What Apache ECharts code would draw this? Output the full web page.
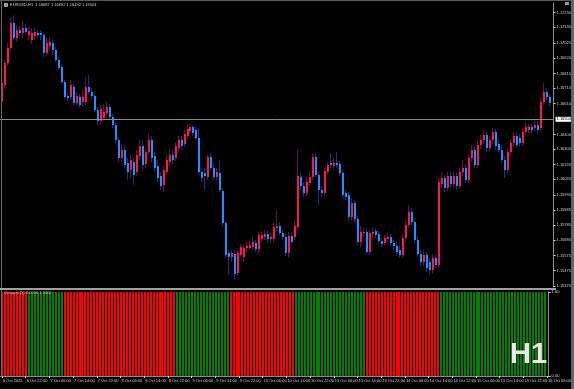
<!DOCTYPE html>
<html><head><meta charset="utf-8">
<script src="https://cdn.jsdelivr.net/npm/echarts@6/dist/echarts.min.js"></script>
<style>html,body{margin:0;padding:0;background:#000;}#c{width:574px;height:389px;}</style>
</head><body><div id="c"></div>
<script>
const symbolTitle = 'EURUSD,H1  1.16687 1.16692 1.16492 1.16504';
const indicatorTitle = 'Octopus 2() 0.0000 1.0000';
const timeframeText = 'H1';
const lastPrice = 1.16504;
const priceTicks = [1.17230,1.17130,1.17025,1.16920,1.16815,1.16715,1.16610,1.16400,1.16300,1.16195,1.16095,1.15990,1.15885,1.15785,1.15680,1.15575,1.15475,1.15370];
const priceMin = 1.15362, priceMax = 1.17296;

const openP = [
1.16621,1.16737,1.16887,1.16989,1.17159,1.17057,1.17112,1.17091,1.17125,1.17078,
1.17044,1.17071,1.17091,1.17091,1.17078,1.16955,1.17003,1.17023,1.16976,1.16907,
1.16860,1.16758,1.16662,1.16655,1.16724,1.16615,1.16655,1.16621,1.16621,1.16724,
1.16690,1.16662,1.16567,1.16492,1.16512,1.16546,1.16587,1.16519,1.16465,1.16363,
1.16240,1.16295,1.16206,1.16158,1.16213,1.16145,1.16254,1.16322,1.16199,1.16281,
1.16363,1.16254,1.16186,1.16117,1.16056,1.16145,1.16213,1.16260,1.16240,1.16308,
1.16363,1.16335,1.16390,1.16424,1.16451,1.16431,1.16376,1.16145,1.16138,1.16111,
1.16247,1.16172,1.16111,1.16138,1.16015,1.15797,1.15593,1.15566,1.15586,1.15457,
1.15579,1.15566,1.15627,1.15627,1.15634,1.15661,1.15620,1.15688,1.15702,1.15722,
1.15688,1.15688,1.15763,1.15777,1.15729,1.15702,1.15593,1.15709,1.15702,1.15770,
1.16111,1.16049,1.16002,1.16070,1.16111,1.16247,1.16124,1.16022,1.16002,1.16145,
1.16206,1.16186,1.16206,1.16199,1.16138,1.16002,1.15988,1.15838,1.15934,1.15825,
1.15668,1.15729,1.15736,1.15600,1.15722,1.15743,1.15722,1.15675,1.15661,1.15688,
1.15702,1.15661,1.15641,1.15614,1.15579,1.15695,1.15784,1.15872,1.15804,1.15682,
1.15586,1.15532,1.15579,1.15532,1.15477,1.15559,1.15511,1.16063,1.16104,1.16036,
1.16117,1.16063,1.16117,1.16049,1.16145,1.16172,1.16090,1.16240,1.16295,1.16192,
1.16329,1.16363,1.16397,1.16308,1.16363,1.16417,1.16335,1.16295,1.16226,1.16158,
1.16281,1.16342,1.16390,1.16376,1.16342,1.16417,1.16431,1.16451,1.16444,1.16465,
1.16444,1.16621,1.16690,1.16655];
const highP = [
1.16785,1.16907,1.17023,1.17200,1.17214,1.17146,1.17139,1.17180,1.17153,1.17132,
1.17125,1.17125,1.17112,1.17112,1.17091,1.17057,1.17057,1.17044,1.16996,1.16928,
1.16873,1.16771,1.16683,1.16771,1.16744,1.16690,1.16676,1.16703,1.16792,1.16805,
1.16717,1.16683,1.16587,1.16601,1.16608,1.16621,1.16608,1.16540,1.16485,1.16383,
1.16329,1.16322,1.16240,1.16260,1.16240,1.16295,1.16363,1.16363,1.16308,1.16410,
1.16390,1.16281,1.16226,1.16145,1.16186,1.16260,1.16295,1.16295,1.16349,1.16390,
1.16390,1.16431,1.16465,1.16472,1.16465,1.16451,1.16444,1.16172,1.16172,1.16260,
1.16274,1.16199,1.16172,1.16226,1.16036,1.15811,1.15614,1.15614,1.15614,1.15614,
1.15654,1.15648,1.15668,1.15682,1.15709,1.15682,1.15736,1.15743,1.15750,1.15750,
1.15729,1.15804,1.15886,1.15804,1.15750,1.15722,1.15736,1.15736,1.15818,1.16295,
1.16145,1.16077,1.16111,1.16145,1.16274,1.16267,1.16145,1.16049,1.16172,1.16213,
1.16274,1.16240,1.16281,1.16220,1.16158,1.16022,1.16009,1.15968,1.15954,1.15845,
1.15777,1.15763,1.15763,1.15750,1.15763,1.15763,1.15743,1.15695,1.15716,1.15729,
1.15722,1.15682,1.15668,1.15641,1.15722,1.15818,1.15920,1.15900,1.15831,1.15709,
1.15614,1.15614,1.15600,1.15559,1.15586,1.15586,1.16104,1.16145,1.16124,1.16145,
1.16145,1.16145,1.16138,1.16172,1.16226,1.16199,1.16260,1.16329,1.16322,1.16363,
1.16397,1.16431,1.16424,1.16390,1.16444,1.16438,1.16363,1.16322,1.16254,1.16308,
1.16369,1.16417,1.16417,1.16404,1.16444,1.16478,1.16472,1.16472,1.16492,1.16492,
1.16649,1.16751,1.16717,1.16676];
const lowP = [
1.16567,1.16717,1.16866,1.16962,1.17044,1.17030,1.17071,1.17057,1.17078,1.17044,
1.17016,1.17044,1.17057,1.17044,1.16928,1.16935,1.16976,1.16941,1.16894,1.16839,
1.16744,1.16642,1.16628,1.16635,1.16594,1.16594,1.16580,1.16594,1.16601,1.16676,
1.16642,1.16553,1.16465,1.16472,1.16492,1.16526,1.16499,1.16444,1.16342,1.16213,
1.16213,1.16172,1.16090,1.16104,1.16056,1.16117,1.16226,1.16158,1.16172,1.16260,
1.16213,1.16145,1.16077,1.16022,1.16009,1.16124,1.16186,1.16199,1.16220,1.16281,
1.16295,1.16315,1.16369,1.16404,1.16390,1.16363,1.16124,1.16077,1.16022,1.16090,
1.16151,1.16090,1.16090,1.16009,1.15777,1.15559,1.15443,1.15532,1.15416,1.15436,
1.15566,1.15532,1.15600,1.15614,1.15614,1.15600,1.15593,1.15668,1.15682,1.15661,
1.15668,1.15668,1.15743,1.15709,1.15682,1.15573,1.15559,1.15648,1.15682,1.15750,
1.16022,1.15974,1.15981,1.16049,1.16090,1.16111,1.15920,1.15974,1.15981,1.16124,
1.16172,1.16165,1.16172,1.16117,1.15968,1.15954,1.15818,1.15818,1.15804,1.15648,
1.15634,1.15702,1.15579,1.15579,1.15695,1.15695,1.15654,1.15634,1.15641,1.15668,
1.15641,1.15614,1.15573,1.15559,1.15559,1.15668,1.15763,1.15777,1.15661,1.15566,
1.15505,1.15505,1.15464,1.15443,1.15450,1.15491,1.15491,1.16036,1.16009,1.16015,
1.16036,1.16043,1.16022,1.16029,1.16117,1.16070,1.16070,1.16213,1.16172,1.16172,
1.16301,1.16335,1.16281,1.16288,1.16335,1.16295,1.16274,1.16206,1.16104,1.16138,
1.16260,1.16315,1.16308,1.16322,1.16322,1.16397,1.16410,1.16410,1.16424,1.16410,
1.16424,1.16601,1.16635,1.16594];
const closeP = [
1.16751,1.16887,1.16989,1.17159,1.17057,1.17112,1.17091,1.17125,1.17098,1.17105,
1.17091,1.17098,1.17078,1.17078,1.16955,1.17023,1.17030,1.16976,1.16907,1.16853,
1.16758,1.16655,1.16649,1.16737,1.16615,1.16662,1.16601,1.16655,1.16724,1.16690,
1.16662,1.16567,1.16492,1.16574,1.16553,1.16587,1.16519,1.16465,1.16363,1.16240,
1.16295,1.16192,1.16145,1.16226,1.16124,1.16260,1.16322,1.16192,1.16281,1.16363,
1.16240,1.16172,1.16104,1.16049,1.16158,1.16226,1.16260,1.16226,1.16322,1.16363,
1.16322,1.16404,1.16438,1.16451,1.16410,1.16376,1.16145,1.16104,1.16117,1.16247,
1.16172,1.16111,1.16145,1.16022,1.15797,1.15579,1.15566,1.15593,1.15450,1.15593,
1.15634,1.15627,1.15641,1.15648,1.15668,1.15620,1.15716,1.15716,1.15722,1.15688,
1.15702,1.15770,1.15777,1.15729,1.15702,1.15593,1.15709,1.15668,1.15777,1.16117,
1.16049,1.16002,1.16077,1.16111,1.16247,1.16124,1.16022,1.16002,1.16151,1.16192,
1.16192,1.16206,1.16192,1.16138,1.15988,1.15974,1.15838,1.15934,1.15825,1.15668,
1.15736,1.15736,1.15600,1.15729,1.15736,1.15716,1.15675,1.15654,1.15695,1.15702,
1.15661,1.15641,1.15600,1.15579,1.15695,1.15784,1.15872,1.15804,1.15682,1.15586,
1.15532,1.15579,1.15491,1.15477,1.15559,1.15511,1.16077,1.16104,1.16036,1.16117,
1.16063,1.16117,1.16049,1.16145,1.16172,1.16090,1.16240,1.16295,1.16192,1.16329,
1.16363,1.16397,1.16308,1.16363,1.16417,1.16322,1.16295,1.16226,1.16158,1.16281,
1.16342,1.16390,1.16329,1.16342,1.16417,1.16451,1.16451,1.16431,1.16465,1.16431,
1.16621,1.16690,1.16655,1.16615];
// Octopus signal: 0 = sell (red), 1 = buy (green)
const signal = [
0,0,0,0,0,0,0,0,0,1,
1,1,1,1,1,1,1,1,1,1,
1,0,0,0,0,0,0,0,0,0,
0,0,0,0,0,0,0,0,0,0,
0,0,0,0,0,0,0,0,0,0,
0,0,0,0,0,0,0,0,0,1,
1,1,1,1,1,1,1,1,1,1,
1,1,1,1,1,1,1,0,0,0,
0,0,0,0,0,0,0,0,0,0,
0,0,0,0,0,0,0,0,0,1,
1,1,1,1,1,1,1,1,1,1,
1,1,1,1,1,1,1,1,1,1,
1,1,1,0,0,0,0,0,0,0,
0,0,0,0,0,0,0,0,0,0,
0,0,0,0,0,0,0,0,1,1,
1,1,1,1,1,1,1,1,1,1,
1,1,1,1,1,1,1,1,1,1,
1,1,1,1,1,1,1,1,1,1,
1,1,1,1];

// hourly bar times (H1), first bar 6 Oct 2025 14:00, weekend hours skipped
const barTimes = [];
(function(){
  let t = Date.UTC(2025, 9, 6, 14);
  while (barTimes.length < 185) {
    const wd = new Date(t).getUTCDay();
    if (wd !== 0 && wd !== 6) barTimes.push(t);
    t += 3600000;
  }
})();
const monthNames = ['Jan','Feb','Mar','Apr','May','Jun','Jul','Aug','Sep','Oct','Nov','Dec'];
const categories = barTimes.map(String);
function fmtTime(v, idx) {
  const d = new Date(+v);
  if (idx === 0) return d.getUTCDate() + ' ' + monthNames[d.getUTCMonth()] + ' ' + d.getUTCFullYear();
  const hh = String(d.getUTCHours()).padStart(2, '0');
  return d.getUTCDate() + ' ' + monthNames[d.getUTCMonth()] + ' ' + hh + ':00';
}

const bullBody = '#ff1458', bearBody = '#1e90ff';
const bullWick = '#6a1050', bearWick = '#1a2f8a';
const sellColor = '#ff0000', buyColor = '#008000';
const textColor = '#d0d0d0', frameColor = '#8c8c8c';
const fontFam = 'Liberation Sans, Arial, sans-serif';

const candleData = openP.map((o, i) => [i, o, closeP[i], lowP[i], highP[i]]);
const signalData = signal.map((s, i) => [i, 1, s]);

function renderCandle(params, api) {
  const i = api.value(0), o = api.value(1), c = api.value(2), l = api.value(3), h = api.value(4);
  const pO = api.coord([i, o]), pC = api.coord([i, c]), pL = api.coord([i, l]), pH = api.coord([i, h]);
  const x = Math.floor(pO[0]);
  const up = c >= o;
  const yH = Math.round(pH[1]), yL = Math.round(pL[1]);
  const top = Math.round(Math.min(pO[1], pC[1])), bot = Math.round(Math.max(pO[1], pC[1]));
  return { type: 'group', children: [
    { type: 'rect', shape: { x: x, y: yH, width: 1, height: Math.max(1, yL - yH) }, style: { fill: up ? bullWick : bearWick } },
    { type: 'rect', shape: { x: x, y: top, width: 2, height: Math.max(1, bot - top) }, style: { fill: up ? bullBody : bearBody } }
  ]};
}
function renderSignal(params, api) {
  const i = api.value(0);
  const p1 = api.coord([i, api.value(1)]), p0 = api.coord([i, 0]);
  const x = Math.floor(p1[0]);
  const y1 = Math.round(p1[1]), y0 = Math.round(p0[1]);
  return { type: 'rect', shape: { x: x, y: y1, width: 2, height: y0 - y1 }, style: { fill: api.value(2) ? buyColor : sellColor } };
}

const chart = echarts.init(document.getElementById('c'), null, { renderer: 'canvas' });
chart.setOption({
  backgroundColor: '#000000',
  animation: false,
  grid: [
    { left: 0, width: 555, top: 3, height: 284 },
    { left: 0, width: 555, top: 292, height: 84 }
  ],
  xAxis: [
    { type: 'category', gridIndex: 0, data: categories, boundaryGap: true, show: false },
    { type: 'category', gridIndex: 1, data: categories, boundaryGap: true,
      axisLine: { show: true, lineStyle: { color: frameColor, width: 1 } },
      axisTick: { show: true, interval: 7, alignWithLabel: true, length: 2, lineStyle: { color: textColor } },
      axisLabel: { interval: 7, formatter: fmtTime, color: textColor, fontSize: 4, fontFamily: fontFam, align: 'left', margin: 3, padding: [0, 0, 0, 1] },
      splitLine: { show: false } }
  ],
  yAxis: [
    { type: 'value', gridIndex: 0, position: 'right', min: priceMin, max: priceMax,
      axisLine: { show: true, lineStyle: { color: frameColor } },
      axisTick: { show: true, customValues: priceTicks, length: 2, lineStyle: { color: textColor } },
      axisLabel: { customValues: priceTicks, formatter: v => (+v).toFixed(5), color: textColor, fontSize: 4, fontFamily: fontFam, margin: 3 },
      splitLine: { show: false } },
    { type: 'value', gridIndex: 1, position: 'right', min: 0, max: 1, interval: 1,
      axisLine: { show: true, lineStyle: { color: frameColor } },
      axisTick: { show: true, length: 2, lineStyle: { color: textColor } },
      axisLabel: { formatter: v => (+v).toFixed(2), color: textColor, fontSize: 4, fontFamily: fontFam, margin: 3 },
      splitLine: { show: false } }
  ],
  series: [
    { type: 'custom', name: 'EURUSD', xAxisIndex: 0, yAxisIndex: 0, renderItem: renderCandle,
      data: candleData, encode: { x: 0, y: [1, 2, 3, 4] }, clip: true, silent: true, z: 3,
      markLine: { silent: true, symbol: 'none', animation: false, precision: 5,
        lineStyle: { color: '#8a8a8a', width: 1, type: 'solid' },
        label: { show: true, position: 'end', formatter: () => lastPrice.toFixed(5), color: '#000', backgroundColor: '#ffffff', fontSize: 4, fontFamily: fontFam, padding: [1, 1, 0, 1], distance: 2 },
        data: [{ yAxis: lastPrice }] } },
    { type: 'custom', name: 'Octopus 2', xAxisIndex: 1, yAxisIndex: 1, renderItem: renderSignal,
      data: signalData, encode: { x: 0, y: 1 }, clip: true, silent: true }
  ],
  graphic: [
    { type: 'rect', shape: { x: 0, y: 0, width: 571, height: 1 }, style: { fill: '#5a5a5a' }, z: 10 },
    { type: 'rect', shape: { x: 1, y: 1, width: 1, height: 376 }, style: { fill: '#6a6a6a' }, z: 10 },
    { type: 'rect', shape: { x: 0, y: 288, width: 556, height: 2 }, style: { fill: '#a0a0a0' }, z: 10 },
    { type: 'rect', shape: { x: 571, y: 0, width: 3, height: 389 }, style: { fill: '#5c6670' }, z: 10 },
    { type: 'rect', shape: { x: 4, y: 3, width: 4, height: 4 }, style: { fill: '#9a9a9a' }, z: 10 },
    { type: 'rect', shape: { x: 565, y: 2, width: 4, height: 3 }, style: { fill: '#9a9a9a' }, z: 10 },
    { type: 'text', left: 10, top: 3, z: 10, style: { text: symbolTitle, fill: textColor, font: '4px ' + fontFam } },
    { type: 'text', left: 4, top: 291, z: 10, style: { text: indicatorTitle, fill: textColor, font: '4px ' + fontFam } },
    { type: 'text', x: 510, y: 340, z: 10, style: { text: timeframeText, fill: '#e8e8e8', font: 'bold 29px ' + fontFam, textVerticalAlign: 'top' } }
  ]
});
</script>
</body></html>
